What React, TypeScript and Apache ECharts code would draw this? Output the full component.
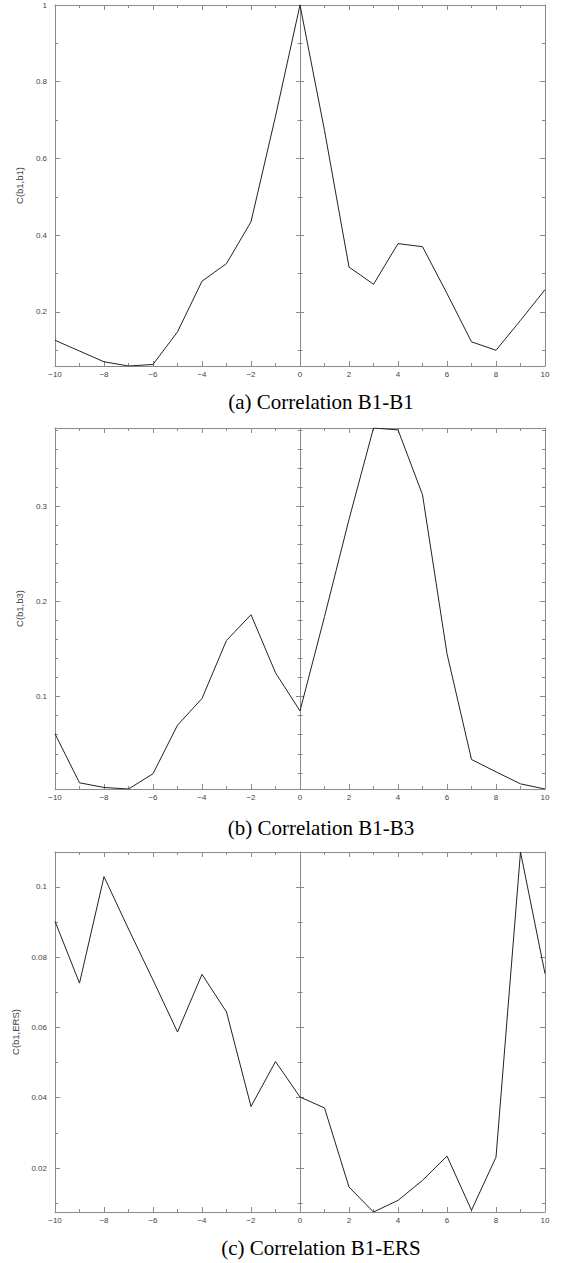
import React, { useEffect, useRef } from "react";
import * as echarts from "echarts";

const lags = [-10, -9, -8, -7, -6, -5, -4, -3, -2, -1, 0, 1, 2, 3, 4, 5, 6, 7, 8, 9, 10];
const corrB1B1 = [0.126, 0.098, 0.07, 0.059, 0.063, 0.148, 0.28, 0.326, 0.435, 0.71, 1.0, 0.673, 0.317, 0.272, 0.378, 0.37, 0.248, 0.122, 0.1, 0.178, 0.258];
const corrB1B3 = [0.061, 0.0095, 0.0046, 0.003, 0.019, 0.07, 0.098, 0.159, 0.186, 0.125, 0.085, 0.184, 0.286, 0.382, 0.38, 0.312, 0.145, 0.034, 0.021, 0.0084, 0.003];
const corrB1ERS = [0.0902, 0.0726, 0.1029, 0.088, 0.0735, 0.0587, 0.0751, 0.0644, 0.0375, 0.0503, 0.0402, 0.0371, 0.0146, 0.0075, 0.0108, 0.0165, 0.0234, 0.008, 0.0231, 0.1099, 0.0753];

const xMajorTicks = [-10, -8, -6, -4, -2, 0, 2, 4, 6, 8, 10];
const xMinorTicks = [-9, -7, -5, -3, -1, 1, 3, 5, 7, 9];

const yMajorA = [0.2, 0.4, 0.6, 0.8, 1];
const yMinorA = [0.1, 0.3, 0.5, 0.7, 0.9];
const yMajorB = [0.1, 0.2, 0.3];
const yMinorB = [0.02, 0.04, 0.06, 0.08, 0.12, 0.14, 0.16, 0.18, 0.22, 0.24, 0.26, 0.28, 0.32, 0.34, 0.36, 0.38];
const yMajorC = [0.02, 0.04, 0.06, 0.08, 0.1];
const yMinorC = [0.01, 0.03, 0.05, 0.07, 0.09];

const yNames = ["C(b1,b1)", "C(b1,b3)", "C(b1,ERS)"];
const captions = ["(a) Correlation B1-B1", "(b) Correlation B1-B3", "(c) Correlation B1-ERS"];

const FRAME = "#8a8a8a";
const LABEL = "#444";
const SANS = "'Liberation Sans', Arial, sans-serif";
const SERIF = "'Liberation Serif', 'Times New Roman', serif";

const panels = [
  { values: corrB1B1, majors: yMajorA, minors: yMinorA, top: 5, height: 361, capY: 401.5 },
  { values: corrB1B3, majors: yMajorB, minors: yMinorB, top: 428, height: 361, capY: 827.5 },
  { values: corrB1ERS, majors: yMajorC, minors: yMinorC, top: 852, height: 360, capY: 1247.5 },
];

const fmtX = (v: number) => (v < 0 ? "\u2212" + Math.abs(v) : String(v));

function buildOption() {
  const grid: any[] = [];
  const xAxis: any[] = [];
  const yAxis: any[] = [];
  const series: any[] = [];
  const graphic: any[] = [];

  panels.forEach((p, g) => {
    grid.push({ left: 55, top: p.top, width: 490, height: p.height, outerBoundsMode: "none", containLabel: false });
    const ymin = Math.min(...p.values);
    const ymax = Math.max(...p.values);
    const xBase = g * 4;
    const yBase = g * 8;

    const xCommon = {
      gridIndex: g,
      type: "value",
      min: -10,
      max: 10,
      splitLine: { show: false },
    };
    const line = { show: true, onZero: false, lineStyle: { color: FRAME, width: 1 } };
    xAxis.push({
      ...xCommon,
      position: "bottom",
      axisLine: line,
      axisTick: { show: true, inside: true, length: 5, customValues: xMajorTicks, lineStyle: { color: FRAME } },
      axisLabel: { show: true, customValues: xMajorTicks, formatter: fmtX, margin: 4, fontSize: 8, color: LABEL, fontFamily: SANS },
    });
    xAxis.push({
      ...xCommon,
      position: "bottom",
      axisLine: { show: false, onZero: false },
      axisTick: { show: true, inside: true, length: 3, customValues: xMinorTicks, lineStyle: { color: FRAME } },
      axisLabel: { show: false },
    });
    xAxis.push({
      ...xCommon,
      position: "top",
      axisLine: line,
      axisTick: { show: true, inside: true, length: 5, customValues: xMajorTicks, lineStyle: { color: FRAME } },
      axisLabel: { show: false },
    });
    xAxis.push({
      ...xCommon,
      position: "top",
      axisLine: { show: false, onZero: false },
      axisTick: { show: true, inside: true, length: 3, customValues: xMinorTicks, lineStyle: { color: FRAME } },
      axisLabel: { show: false },
    });

    const yCommon = {
      gridIndex: g,
      type: "value",
      min: ymin,
      max: ymax,
      splitLine: { show: false },
    };
    yAxis.push({
      ...yCommon,
      position: "left",
      axisLine: line,
      axisTick: { show: true, inside: true, length: 5, customValues: p.majors, lineStyle: { color: FRAME } },
      axisLabel: { show: true, customValues: p.majors, margin: 8, fontSize: 8, color: LABEL, fontFamily: SANS },
      name: yNames[g],
      nameLocation: "middle",
      nameGap: 22,
      nameTextStyle: { fontSize: 9.5, color: LABEL, fontFamily: SANS },
    });
    yAxis.push({
      ...yCommon,
      position: "left",
      axisLine: { show: false, onZero: false },
      axisTick: { show: true, inside: true, length: 3, customValues: p.minors, lineStyle: { color: FRAME } },
      axisLabel: { show: false },
    });
    yAxis.push({
      ...yCommon,
      position: "right",
      axisLine: line,
      axisTick: { show: true, inside: true, length: 5, customValues: p.majors, lineStyle: { color: FRAME } },
      axisLabel: { show: false },
    });
    yAxis.push({
      ...yCommon,
      position: "right",
      axisLine: { show: false, onZero: false },
      axisTick: { show: true, inside: true, length: 3, customValues: p.minors, lineStyle: { color: FRAME } },
      axisLabel: { show: false },
    });
    const zeroLine = { show: true, onZero: true, onZeroAxisIndex: xBase, lineStyle: { color: FRAME, width: 1 } };
    yAxis.push({
      ...yCommon,
      position: "left",
      axisLine: zeroLine,
      axisTick: { show: true, inside: true, length: 4, customValues: p.majors, lineStyle: { color: FRAME } },
      axisLabel: { show: false },
    });
    yAxis.push({
      ...yCommon,
      position: "left",
      axisLine: { ...zeroLine, show: false },
      axisTick: { show: true, inside: false, length: 4, customValues: p.majors, lineStyle: { color: FRAME } },
      axisLabel: { show: false },
    });
    yAxis.push({
      ...yCommon,
      position: "left",
      axisLine: { ...zeroLine, show: false },
      axisTick: { show: true, inside: true, length: 2.5, customValues: p.minors, lineStyle: { color: FRAME } },
      axisLabel: { show: false },
    });
    yAxis.push({
      ...yCommon,
      position: "left",
      axisLine: { ...zeroLine, show: false },
      axisTick: { show: true, inside: false, length: 2.5, customValues: p.minors, lineStyle: { color: FRAME } },
      axisLabel: { show: false },
    });

    series.push({
      type: "line",
      xAxisIndex: xBase,
      yAxisIndex: yBase,
      data: lags.map((x, i) => [x, p.values[i]]),
      symbol: "none",
      smooth: false,
      lineStyle: { color: "#222", width: 1 },
      z: 5,
    });

    graphic.push({
      type: "text",
      x: 321,
      y: p.capY,
      style: {
        text: captions[g],
        fill: "#000",
        fontSize: 21,
        fontFamily: SERIF,
        align: "center",
        verticalAlign: "middle",
      },
    });
  });

  return {
    animation: false,
    backgroundColor: "#fff",
    grid,
    xAxis,
    yAxis,
    series,
    graphic,
  };
}

export default function App() {
  const ref = useRef<HTMLDivElement>(null);
  useEffect(() => {
    if (!ref.current) return;
    const chart = echarts.init(ref.current, null, { renderer: "svg" });
    chart.setOption(buildOption() as any);
    return () => chart.dispose();
  }, []);
  return (
    <div
      ref={ref}
      style={{ position: "absolute", left: 0, top: 0, width: 564, height: 1263, background: "#fff" }}
    />
  );
}
